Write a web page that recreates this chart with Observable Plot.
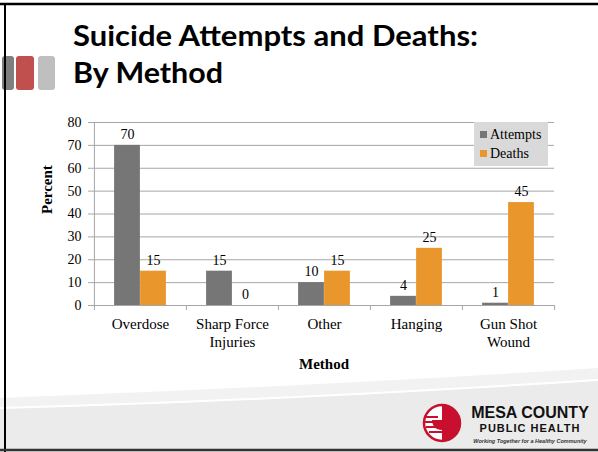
<!DOCTYPE html>
<html>
<head>
<meta charset="utf-8">
<script src="https://cdn.jsdelivr.net/npm/d3@7"></script>
<script src="https://cdn.jsdelivr.net/npm/@observablehq/plot@0.6"></script>
<style>
  html, body { margin: 0; padding: 0; background: #fff; }
  #slide { position: relative; width: 598px; height: 452px; overflow: hidden; background: #fff; }
  #deco { position: absolute; left: 0; top: 0; }
  #chart { position: absolute; left: 0; top: 105px; }
  #legend { position: absolute; left: 474px; top: 122px; width: 74px; height: 44px; background: #d9d9d9;
            font-family: "Liberation Serif", serif; font-size: 14px; color: #000; box-sizing: border-box; padding-top: 3px; }
  #legend div { display: flex; align-items: center; height: 19px; padding-left: 6px; }
  #legend span.sw { display: inline-block; width: 7px; height: 7px; margin-right: 3px; }
</style>
</head>
<body>
<div id="slide">
  <svg id="deco" width="598" height="452">
    <!-- bottom swoosh -->
    <path d="M0,398 C150,392 350,384 598,368 L598,452 L0,452 Z" fill="#f2f2f2"/>
    <path d="M0,408 C150,404 350,396 598,380 L598,452 L0,452 Z" fill="#ebebeb"/>
    <path d="M0,408 C150,404 350,396 598,380" fill="none" stroke="#ffffff" stroke-width="2"/>
    <!-- decorative squares -->
    <rect x="2" y="56" width="12" height="34" rx="3" fill="#7f7f7f"/>
    <rect x="16" y="56" width="18" height="34" rx="3" fill="#c0504d"/>
    <rect x="38" y="56" width="17" height="34" rx="3" fill="#bfbfbf"/>
    <!-- frame -->
    <line x1="0" y1="4" x2="598" y2="4" stroke="#000" stroke-width="2.5"/>
    <line x1="5" y1="3" x2="5" y2="452" stroke="#000" stroke-width="2"/>
    <line x1="0" y1="450" x2="598" y2="450" stroke="#333" stroke-width="2.5"/>
    <!-- title -->
    <text x="73" y="46" font-family="Lato, 'Open Sans', sans-serif" font-weight="700" font-size="28" fill="#000" textLength="405" lengthAdjust="spacingAndGlyphs">Suicide Attempts and Deaths:</text>
    <text x="73" y="83" font-family="Lato, 'Open Sans', sans-serif" font-weight="700" font-size="28" fill="#000" textLength="150" lengthAdjust="spacingAndGlyphs">By Method</text>
    <!-- logo -->
    <circle cx="442" cy="423" r="18" fill="#fff" stroke="#c8102e" stroke-width="2.5"/>
    <path d="M442,405 A18,18 0 0 1 442,441 L442,430 C436,430 432,426 432,420 L442,420 Z" fill="#c8102e"/>
    <path d="M425,417 L438,417 M425,422 L440,422 M426,427 L441,427 M429,432 L442,432" stroke="#c8102e" stroke-width="2" fill="none"/>
    <text x="530" y="418" text-anchor="middle" font-family="'Liberation Sans Narrow', 'Liberation Sans', sans-serif" font-weight="700" font-size="16" fill="#111">MESA COUNTY</text>
    <text x="530" y="432" text-anchor="middle" font-family="'Liberation Sans', sans-serif" font-weight="700" font-size="11" letter-spacing="1" fill="#111">PUBLIC HEALTH</text>
    <text x="530" y="443" text-anchor="middle" font-family="'Liberation Sans', sans-serif" font-weight="700" font-style="italic" font-size="5.5" fill="#333">Working Together for a Healthy Community</text>
  </svg>
  <div id="chart"></div>
  <div id="legend">
    <div><span class="sw" style="background:#767676"></span>Attempts</div>
    <div><span class="sw" style="background:#e9972c"></span>Deaths</div>
  </div>
</div>
<script>
const methods = ["Overdose", "Sharp Force\nInjuries", "Other", "Hanging", "Gun Shot\nWound"];
const series = ["Attempts", "Deaths"];
const attempts = [70, 15, 10, 4, 1];
const deaths = [15, 0, 15, 25, 45];
const yTicks = [0, 10, 20, 30, 40, 50, 60, 70, 80];
const colors = ["#767676", "#e9972c"];

const rows = methods.flatMap((m, i) => [
  {method: m, series: "Attempts", value: attempts[i]},
  {method: m, series: "Deaths", value: deaths[i]}
]);
const att = rows.filter(d => d.series === "Attempts");
const dea = rows.filter(d => d.series === "Deaths");

const W = 598, H = 275, mL = 93, mR = 44, mT = 17, mB = 75;
const bw = (W - mL - mR) / methods.length;
const barW = 26;
const frameH = H - mT - mB;

const chart = Plot.plot({
  width: W,
  height: H,
  marginLeft: mL,
  marginRight: mR,
  marginTop: mT,
  marginBottom: mB,
  style: {fontFamily: "'Liberation Serif', serif", fontSize: "14px", color: "#000", background: "transparent"},
  x: {domain: methods, padding: 0, label: null},
  y: {domain: [0, 80], label: null},
  color: {domain: series, range: colors},
  marks: [
    Plot.ruleY(yTicks, {stroke: "#a6a6a6", strokeWidth: 1}),
    Plot.ruleX([methods[0]], {x: d => d, dx: -bw / 2, stroke: "#a6a6a6"}),
    Plot.ruleX(methods, {x: d => d, dx: -bw / 2, stroke: "#a6a6a6", insetTop: frameH, insetBottom: -5}),
    Plot.ruleX([methods[methods.length - 1]], {x: d => d, dx: bw / 2, stroke: "#a6a6a6", insetTop: frameH, insetBottom: -5}),
    Plot.barY(att, {x: "method", y: "value", fill: "series", insetLeft: bw / 2 - barW, insetRight: bw / 2}),
    Plot.barY(dea, {x: "method", y: "value", fill: "series", insetLeft: bw / 2, insetRight: bw / 2 - barW}),
    Plot.text(att, {x: "method", y: "value", text: d => String(d.value), dx: -barW / 2, dy: -11, fill: "#000", fontSize: 14}),
    Plot.text(dea, {x: "method", y: "value", text: d => String(d.value), dx: barW / 2, dy: -11, fill: "#000", fontSize: 14}),
    Plot.axisY(yTicks, {tickSize: 5, tickPadding: 7, stroke: "#a6a6a6", fill: "#000", fontSize: 14, label: null}),
    Plot.axisX({tickSize: 0, tickPadding: 11, fontSize: 15, lineHeight: 1.2, label: null}),
    Plot.text(["Method"], {frameAnchor: "bottom", dy: 63, fontWeight: "bold", fontSize: 15, fill: "#000"}),
    Plot.text(["Percent"], {frameAnchor: "left", dx: -46, rotate: -90, fontWeight: "bold", fontSize: 15, fill: "#000"})
  ]
});
document.getElementById("chart").appendChild(chart);
</script>
</body>
</html>
